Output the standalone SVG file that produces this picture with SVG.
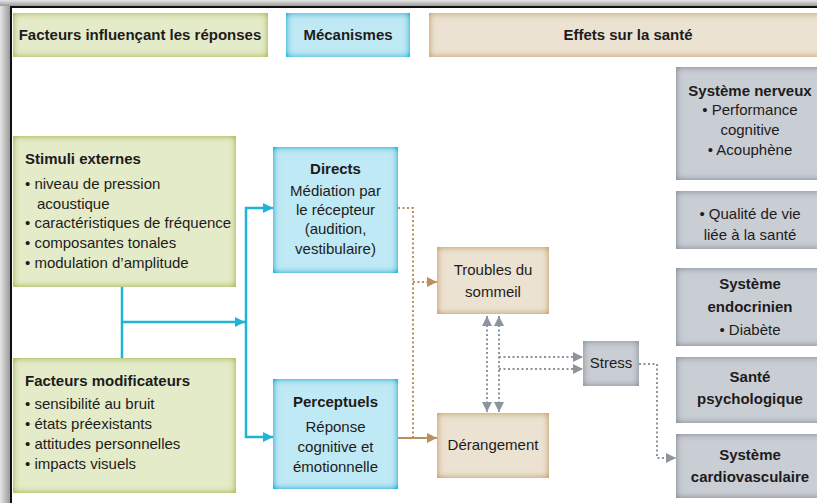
<svg xmlns="http://www.w3.org/2000/svg" width="817" height="503" viewBox="0 0 817 503">
<defs>
<style>
text{font-family:"Liberation Sans",Arial,sans-serif;font-size:15px;fill:#1e1b1c}
.b{font-weight:bold}
.c{text-anchor:middle}
.green{fill:#e4ebc8;filter:url(#fGreen)}
.cyan{fill:#bfe9f4;filter:url(#fCyan)}
.tan{fill:#ece2d2;filter:url(#fTan)}
.gray{fill:#c9cdd4;filter:url(#fGray)}
.cy{fill:none;stroke:#1db4d6;stroke-width:2.5}
.tn{fill:none;stroke:#b8915c;stroke-width:2}
.tnd{fill:none;stroke:#b8915c;stroke-width:2;stroke-dasharray:2 2.5}
.gyd{fill:none;stroke:#8c949e;stroke-width:2;stroke-dasharray:2 2.5}
</style>
<linearGradient id="lg" x1="0" y1="0" x2="1" y2="0"><stop offset="0" stop-color="#e6e6e6"/><stop offset="1" stop-color="#9a9a9a"/></linearGradient>
<linearGradient id="tg" x1="0" y1="0" x2="0" y2="1"><stop offset="0" stop-color="#e6e6e6"/><stop offset="1" stop-color="#9a9a9a"/></linearGradient>
<filter id="fGreen" x="-10%" y="-10%" width="120%" height="120%"><feFlood flood-color="#b4c462"/><feComposite in2="SourceAlpha" operator="out"/><feGaussianBlur stdDeviation="3.5"/><feComponentTransfer><feFuncA type="linear" slope="1.7"/></feComponentTransfer><feComposite in2="SourceAlpha" operator="in"/><feMerge><feMergeNode in="SourceGraphic"/><feMergeNode/></feMerge></filter>
<filter id="fCyan" x="-10%" y="-10%" width="120%" height="120%"><feFlood flood-color="#22bddf"/><feComposite in2="SourceAlpha" operator="out"/><feGaussianBlur stdDeviation="3.5"/><feComponentTransfer><feFuncA type="linear" slope="1.7"/></feComponentTransfer><feComposite in2="SourceAlpha" operator="in"/><feMerge><feMergeNode in="SourceGraphic"/><feMergeNode/></feMerge></filter>
<filter id="fTan" x="-10%" y="-10%" width="120%" height="120%"><feFlood flood-color="#cfae7c"/><feComposite in2="SourceAlpha" operator="out"/><feGaussianBlur stdDeviation="3.5"/><feComponentTransfer><feFuncA type="linear" slope="1.7"/></feComponentTransfer><feComposite in2="SourceAlpha" operator="in"/><feMerge><feMergeNode in="SourceGraphic"/><feMergeNode/></feMerge></filter>
<filter id="fGray" x="-10%" y="-10%" width="120%" height="120%"><feFlood flood-color="#969da7"/><feComposite in2="SourceAlpha" operator="out"/><feGaussianBlur stdDeviation="3.5"/><feComponentTransfer><feFuncA type="linear" slope="1.7"/></feComponentTransfer><feComposite in2="SourceAlpha" operator="in"/><feMerge><feMergeNode in="SourceGraphic"/><feMergeNode/></feMerge></filter>
<marker id="aCy" viewBox="0 0 10 10" refX="10" refY="5" markerWidth="10" markerHeight="10" markerUnits="userSpaceOnUse" orient="auto-start-reverse"><path d="M0,0 L10,5 L0,10 z" fill="#1db4d6"/></marker>
<marker id="aTn" viewBox="0 0 10 10" refX="10" refY="5" markerWidth="10" markerHeight="10" markerUnits="userSpaceOnUse" orient="auto-start-reverse"><path d="M0,0 L10,5 L0,10 z" fill="#b8915c"/></marker>
<marker id="aGy" viewBox="0 0 10 10" refX="10" refY="5" markerWidth="10" markerHeight="10" markerUnits="userSpaceOnUse" orient="auto-start-reverse"><path d="M0,0 L10,5 L0,10 z" fill="#8c949e"/></marker>
</defs>
<rect width="817" height="503" fill="#fff"/>
<g id="frame">
<rect x="0" y="0" width="10" height="503" fill="url(#lg)"/>
<rect x="0" y="0" width="817" height="6" fill="url(#tg)"/>
<rect x="10" y="6" width="807" height="2" fill="#111"/>
<rect x="10" y="6" width="2" height="497" fill="#111"/>
</g>
<g id="headers">
<g id="h-facteurs"><rect class="green" x="13" y="13" width="255" height="44"/><text class="b c" x="140" y="40">Facteurs influençant les réponses</text></g>
<g id="h-mecanismes"><rect class="cyan" x="286" y="13" width="124" height="44"/><text class="b c" x="348" y="40">Mécanismes</text></g>
<g id="h-effets"><rect class="tan" x="429" y="13" width="400" height="44"/><text class="b c" x="628" y="40">Effets sur la santé</text></g>
</g>
<g id="connectors">
<path class="cy" d="M122,287 V358"/>
<path class="cy" d="M122,322 H245" marker-end="url(#aCy)"/>
<path class="cy" d="M246,322 V208 H273" marker-end="url(#aCy)"/>
<path class="cy" d="M246,322 V437 H273" marker-end="url(#aCy)"/>
<path class="tnd" d="M398,208 H413 V437"/>
<path class="tnd" d="M413,282 H437" marker-end="url(#aTn)"/>
<path class="tn" d="M398,438 H437" marker-end="url(#aTn)"/>
<path class="gyd" d="M487,316 V412" marker-start="url(#aGy)" marker-end="url(#aGy)"/>
<path class="gyd" d="M499,316 V412" marker-start="url(#aGy)" marker-end="url(#aGy)"/>
<path class="gyd" d="M499,357 H583" marker-end="url(#aGy)"/>
<path class="gyd" d="M499,369 H583" marker-end="url(#aGy)"/>
<path class="gyd" d="M639,364 H657 V458 H676" marker-end="url(#aGy)"/>
</g>
<g id="stimuli">
<rect class="green" x="13" y="136" width="223" height="151"/>
<text class="b" x="25" y="164">Stimuli externes</text>
<text x="25" y="189">• niveau de pression</text>
<text x="37" y="209">acoustique</text>
<text x="25" y="228">• caractéristiques de fréquence</text>
<text x="25" y="248">• composantes tonales</text>
<text x="25" y="268">• modulation d’amplitude</text>
</g>
<g id="modificateurs">
<rect class="green" x="13" y="358" width="223" height="135"/>
<text class="b" x="25" y="386">Facteurs modificateurs</text>
<text x="25" y="409">• sensibilité au bruit</text>
<text x="25" y="429">• états préexistants</text>
<text x="25" y="449">• attitudes personnelles</text>
<text x="25" y="469">• impacts visuels</text>
</g>
<g id="directs">
<rect class="cyan" x="273" y="147" width="125" height="126"/>
<text class="b c" x="335.5" y="174">Directs</text>
<text class="c" x="335.5" y="196">Médiation par</text>
<text class="c" x="335.5" y="215">le récepteur</text>
<text class="c" x="335.5" y="234">(audition,</text>
<text class="c" x="335.5" y="254">vestibulaire)</text>
</g>
<g id="perceptuels">
<rect class="cyan" x="273" y="379" width="125" height="110"/>
<text class="b c" x="335.5" y="407">Perceptuels</text>
<text class="c" x="335.5" y="432">Réponse</text>
<text class="c" x="335.5" y="452">cognitive et</text>
<text class="c" x="335.5" y="472">émotionnelle</text>
</g>
<g id="troubles">
<rect class="tan" x="437" y="247" width="112" height="67"/>
<text class="c" x="493" y="275">Troubles du</text>
<text class="c" x="493" y="297">sommeil</text>
</g>
<g id="derangement">
<rect class="tan" x="437" y="413" width="112" height="65"/>
<text class="c" x="493" y="450">Dérangement</text>
</g>
<g id="stress">
<rect class="gray" x="583" y="341" width="56" height="45"/>
<text class="c" x="611" y="368">Stress</text>
</g>
<g id="nerveux">
<rect class="gray" x="676" y="67" width="150" height="113"/>
<text class="b c" x="750" y="96">Système nerveux</text>
<text class="c" x="750" y="115">• Performance</text>
<text class="c" x="750" y="135">cognitive</text>
<text class="c" x="750" y="155">• Acouphène</text>
</g>
<g id="qualite">
<rect class="gray" x="676" y="191" width="150" height="58"/>
<text class="c" x="750" y="219">• Qualité de vie</text>
<text class="c" x="750" y="240">liée à la santé</text>
</g>
<g id="endocrinien">
<rect class="gray" x="676" y="268" width="150" height="78"/>
<text class="b c" x="750" y="289">Système</text>
<text class="b c" x="750" y="312">endocrinien</text>
<text class="c" x="750" y="335">• Diabète</text>
</g>
<g id="psycho">
<rect class="gray" x="676" y="357" width="150" height="66"/>
<text class="b c" x="750" y="382">Santé</text>
<text class="b c" x="750" y="404">psychologique</text>
</g>
<g id="cardio">
<rect class="gray" x="676" y="434" width="150" height="64"/>
<text class="b c" x="750" y="460">Système</text>
<text class="b c" x="750" y="482">cardiovasculaire</text>
</g>
</svg>
